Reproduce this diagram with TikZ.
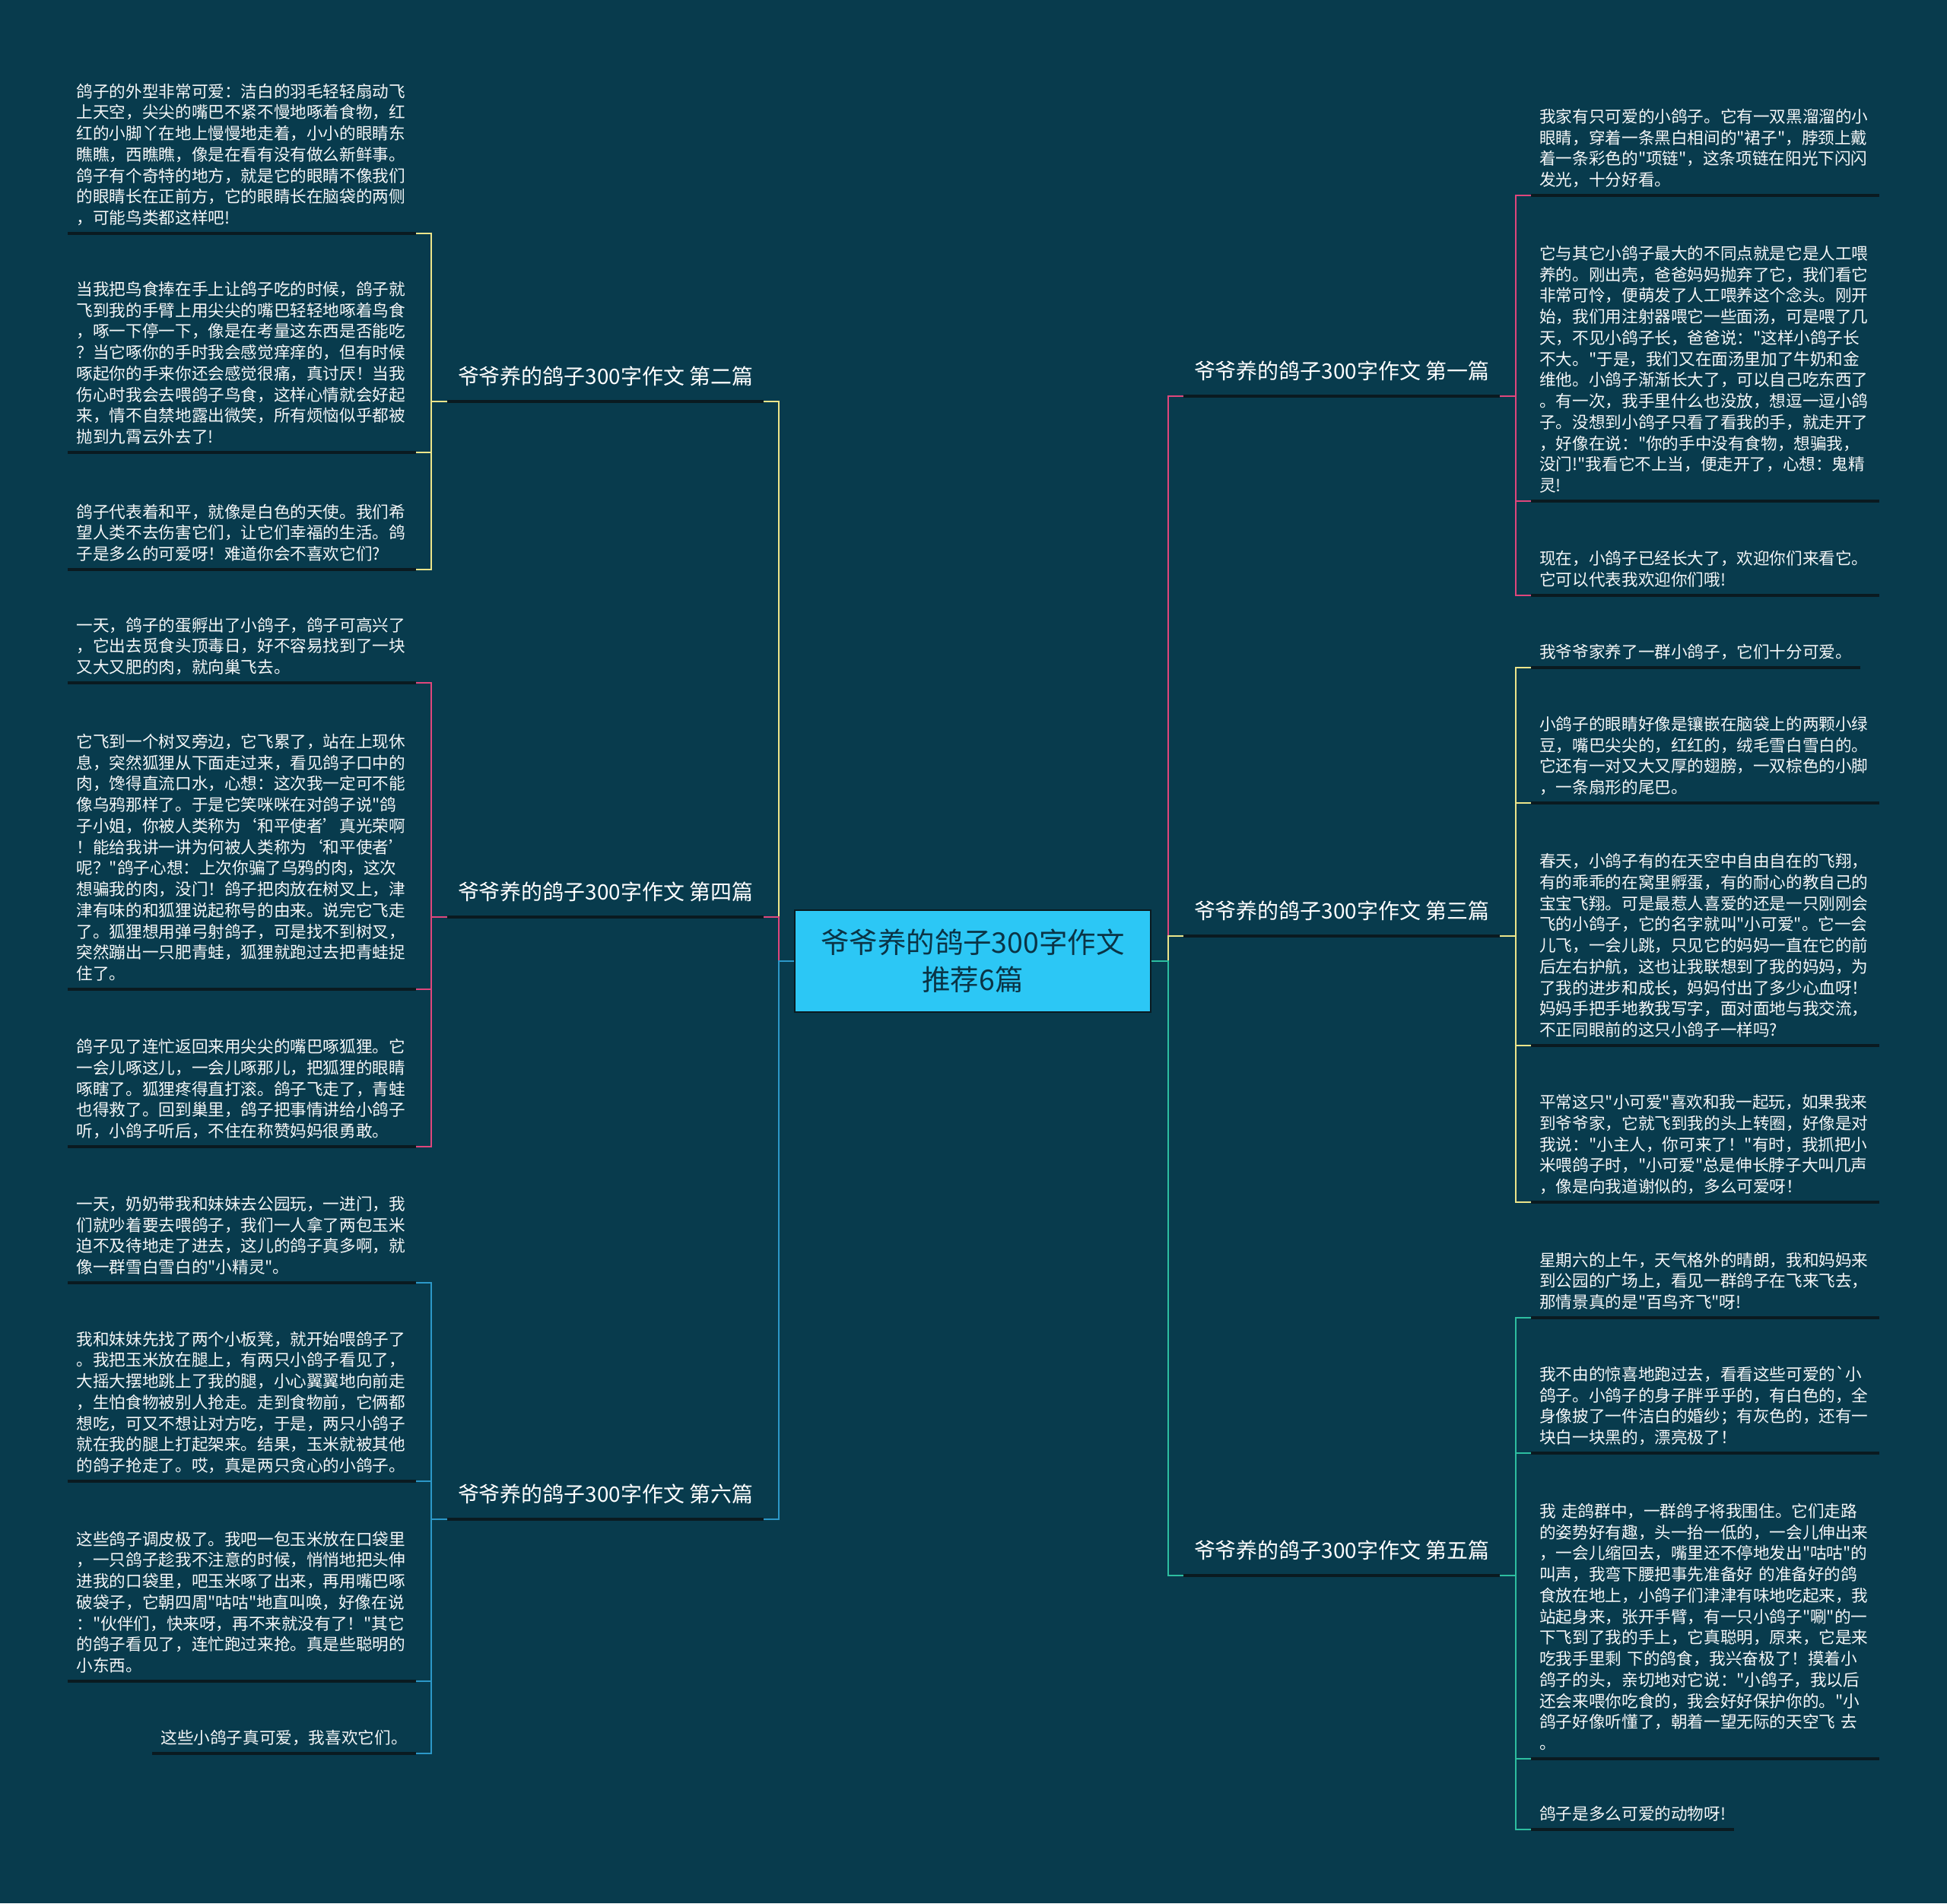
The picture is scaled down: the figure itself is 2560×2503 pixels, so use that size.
\documentclass[tikz,border=0pt]{standalone}
\usepackage{fontspec}
\newfontfamily\cjkfont{Noto Sans CJK SC}
\usetikzlibrary{positioning, calc}
\definecolor{bgc}{HTML}{083B4D}
\definecolor{hubfill}{HTML}{2CC7F5}
\definecolor{hubink}{HTML}{0A3446}
\definecolor{pnk}{HTML}{E0467C}
\definecolor{yel}{HTML}{EDE58A}
\definecolor{blu}{HTML}{2C98C8}
\definecolor{tea}{HTML}{2DBEA0}
\definecolor{under}{HTML}{0A1A20}
\tikzset{
  every node/.style = {font=\cjkfont},
  mmhub/.style    = {draw=under, line width=1pt, fill=hubfill, text=hubink, align=center,
                     minimum width=9.36cm, minimum height=2.68cm, inner sep=0pt,
                     font=\cjkfont\fontsize{21.3}{27.9}\selectfont},
  mmbranch/.style = {text=white, minimum width=8.32cm, inner sep=0pt, text depth=0.44cm,
                     anchor=south, font=\cjkfont\fontsize{15.9}{19}\selectfont},
  mmleaf/.style   = {text=white!96!bgc, align=left, inner xsep=0.22cm, inner ysep=0pt,
                     font=\cjkfont\fontsize{12.3}{15.8}\selectfont,
                     execute at end node={\rule[-0.24cm]{0pt}{0pt}}},
  mmwide/.style   = {text width=8.7cm},
  mmyel/.style    = {draw=yel, line width=1.1pt},
  mmpnk/.style    = {draw=pnk, line width=1.1pt},
  mmblu/.style    = {draw=blu, line width=1.1pt},
  mmtea/.style    = {draw=tea, line width=1.1pt},
  mmunder/.style  = {draw=under, line width=2.4pt},
}

\begin{document}
\begin{tikzpicture}[x=0.02cm, y=-0.02cm]

\fill[bgc] (0,0) rectangle (2560,2503);

\node[mmhub] (hub) at (1279,1264) {爷爷养的鸽子300字作文\\推荐6篇};

\node[mmbranch] (b2) at (796,528)  {爷爷养的鸽子300字作文 第二篇};
\node[mmbranch] (b4) at (796,1206) {爷爷养的鸽子300字作文 第四篇};
\node[mmbranch] (b6) at (796,1998) {爷爷养的鸽子300字作文 第六篇};
\node[mmbranch] (b1) at (1764,521)  {爷爷养的鸽子300字作文 第一篇};
\node[mmbranch] (b3) at (1764,1231) {爷爷养的鸽子300字作文 第三篇};
\node[mmbranch] (b5) at (1764,2072) {爷爷养的鸽子300字作文 第五篇};

% left side
\node[mmleaf, mmwide, anchor=south east] (p2a) at (547,307)
  {鸽子的外型非常可爱：洁白的羽毛轻轻扇动飞\\上天空，尖尖的嘴巴不紧不慢地啄着食物，红\\红的小脚丫在地上慢慢地走着，小小的眼睛东\\瞧瞧，西瞧瞧，像是在看有没有做么新鲜事。\\鸽子有个奇特的地方，就是它的眼睛不像我们\\的眼睛长在正前方，它的眼睛长在脑袋的两侧\\，可能鸟类都这样吧!};
\node[mmleaf, mmwide, anchor=south east] (p2b) at (547,595)
  {当我把鸟食捧在手上让鸽子吃的时候，鸽子就\\飞到我的手臂上用尖尖的嘴巴轻轻地啄着鸟食\\，啄一下停一下，像是在考量这东西是否能吃\\？当它啄你的手时我会感觉痒痒的，但有时候\\啄起你的手来你还会感觉很痛，真讨厌！当我\\伤心时我会去喂鸽子鸟食，这样心情就会好起\\来，情不自禁地露出微笑，所有烦恼似乎都被\\抛到九霄云外去了!};
\node[mmleaf, mmwide, anchor=south east] (p2c) at (547,749)
  {鸽子代表着和平，就像是白色的天使。我们希\\望人类不去伤害它们，让它们幸福的生活。鸽\\子是多么的可爱呀！难道你会不喜欢它们?};

\node[mmleaf, mmwide, anchor=south east] (p4a) at (547,898)
  {一天，鸽子的蛋孵出了小鸽子，鸽子可高兴了\\，它出去觅食头顶毒日，好不容易找到了一块\\又大又肥的肉，就向巢飞去。};
\node[mmleaf, mmwide, anchor=south east] (p4b) at (547,1301)
  {它飞到一个树叉旁边，它飞累了，站在上现休\\息，突然狐狸从下面走过来，看见鸽子口中的\\肉，馋得直流口水，心想：这次我一定可不能\\像乌鸦那样了。于是它笑咪咪在对鸽子说"鸽\\子小姐，你被人类称为‘和平使者’真光荣啊\\！能给我讲一讲为何被人类称为‘和平使者’\\呢？"鸽子心想：上次你骗了乌鸦的肉，这次\\想骗我的肉，没门！鸽子把肉放在树叉上，津\\津有味的和狐狸说起称号的由来。说完它飞走\\了。狐狸想用弹弓射鸽子，可是找不到树叉，\\突然蹦出一只肥青蛙，狐狸就跑过去把青蛙捉\\住了。};
\node[mmleaf, mmwide, anchor=south east] (p4c) at (547,1508)
  {鸽子见了连忙返回来用尖尖的嘴巴啄狐狸。它\\一会儿啄这儿，一会儿啄那儿，把狐狸的眼睛\\啄瞎了。狐狸疼得直打滚。鸽子飞走了，青蛙\\也得救了。回到巢里，鸽子把事情讲给小鸽子\\听，小鸽子听后，不住在称赞妈妈很勇敢。};

\node[mmleaf, mmwide, anchor=south east] (p6a) at (547,1687)
  {一天，奶奶带我和妹妹去公园玩，一进门，我\\们就吵着要去喂鸽子，我们一人拿了两包玉米\\迫不及待地走了进去，这儿的鸽子真多啊，就\\像一群雪白雪白的"小精灵"。};
\node[mmleaf, mmwide, anchor=south east] (p6b) at (547,1948)
  {我和妹妹先找了两个小板凳，就开始喂鸽子了\\。我把玉米放在腿上，有两只小鸽子看见了，\\大摇大摆地跳上了我的腿，小心翼翼地向前走\\，生怕食物被别人抢走。走到食物前，它俩都\\想吃，可又不想让对方吃，于是，两只小鸽子\\就在我的腿上打起架来。结果，玉米就被其他\\的鸽子抢走了。哎，真是两只贪心的小鸽子。};
\node[mmleaf, mmwide, anchor=south east] (p6c) at (547,2211)
  {这些鸽子调皮极了。我吧一包玉米放在口袋里\\，一只鸽子趁我不注意的时候，悄悄地把头伸\\进我的口袋里，吧玉米啄了出来，再用嘴巴啄\\破袋子，它朝四周"咕咕"地直叫唤，好像在说\\："伙伴们，快来呀，再不来就没有了！"其它\\的鸽子看见了，连忙跑过来抢。真是些聪明的\\小东西。};
\node[mmleaf, anchor=south east] (p6d) at (547,2306) {这些小鸽子真可爱，我喜欢它们。};

% right side
\node[mmleaf, mmwide, anchor=south west] (p1a) at (2013,257)
  {我家有只可爱的小鸽子。它有一双黑溜溜的小\\眼睛，穿着一条黑白相间的"裙子"，脖颈上戴\\着一条彩色的"项链"，这条项链在阳光下闪闪\\发光，十分好看。};
\node[mmleaf, mmwide, anchor=south west] (p1b) at (2013,659)
  {它与其它小鸽子最大的不同点就是它是人工喂\\养的。刚出壳，爸爸妈妈抛弃了它，我们看它\\非常可怜，便萌发了人工喂养这个念头。刚开\\始，我们用注射器喂它一些面汤，可是喂了几\\天，不见小鸽子长，爸爸说："这样小鸽子长\\不大。"于是，我们又在面汤里加了牛奶和金\\维他。小鸽子渐渐长大了，可以自己吃东西了\\。有一次，我手里什么也没放，想逗一逗小鸽\\子。没想到小鸽子只看了看我的手，就走开了\\，好像在说："你的手中没有食物，想骗我，\\没门!"我看它不上当，便走开了，心想：鬼精\\灵!};
\node[mmleaf, mmwide, anchor=south west] (p1c) at (2013,783)
  {现在，小鸽子已经长大了，欢迎你们来看它。\\它可以代表我欢迎你们哦!};

\node[mmleaf, anchor=south west] (p3a) at (2013,878) {我爷爷家养了一群小鸽子，它们十分可爱。};
\node[mmleaf, mmwide, anchor=south west] (p3b) at (2013,1056)
  {小鸽子的眼睛好像是镶嵌在脑袋上的两颗小绿\\豆，嘴巴尖尖的，红红的，绒毛雪白雪白的。\\它还有一对又大又厚的翅膀，一双棕色的小脚\\，一条扇形的尾巴。};
\node[mmleaf, mmwide, anchor=south west] (p3c) at (2013,1375)
  {春天，小鸽子有的在天空中自由自在的飞翔，\\有的乖乖的在窝里孵蛋，有的耐心的教自己的\\宝宝飞翔。可是最惹人喜爱的还是一只刚刚会\\飞的小鸽子，它的名字就叫"小可爱"。它一会\\儿飞，一会儿跳，只见它的妈妈一直在它的前\\后左右护航，这也让我联想到了我的妈妈，为\\了我的进步和成长，妈妈付出了多少心血呀！\\妈妈手把手地教我写字，面对面地与我交流，\\不正同眼前的这只小鸽子一样吗?};
\node[mmleaf, mmwide, anchor=south west] (p3d) at (2013,1581)
  {平常这只"小可爱"喜欢和我一起玩，如果我来\\到爷爷家，它就飞到我的头上转圈，好像是对\\我说："小主人，你可来了！"有时，我抓把小\\米喂鸽子时，"小可爱"总是伸长脖子大叫几声\\，像是向我道谢似的，多么可爱呀！};

\node[mmleaf, mmwide, anchor=south west] (p5a) at (2013,1733)
  {星期六的上午，天气格外的晴朗，我和妈妈来\\到公园的广场上，看见一群鸽子在飞来飞去，\\那情景真的是"百鸟齐飞"呀!};
\node[mmleaf, mmwide, anchor=south west] (p5b) at (2013,1911)
  {我不由的惊喜地跑过去，看看这些可爱的`小\\鸽子。小鸽子的身子胖乎乎的，有白色的，全\\身像披了一件洁白的婚纱；有灰色的，还有一\\块白一块黑的，漂亮极了！};
\node[mmleaf, mmwide, anchor=south west] (p5c) at (2013,2313)
  {我 走鸽群中，一群鸽子将我围住。它们走路\\的姿势好有趣，头一抬一低的，一会儿伸出来\\，一会儿缩回去，嘴里还不停地发出"咕咕"的\\叫声，我弯下腰把事先准备好 的准备好的鸽\\食放在地上，小鸽子们津津有味地吃起来，我\\站起身来，张开手臂，有一只小鸽子"唰"的一\\下飞到了我的手上，它真聪明，原来，它是来\\吃我手里剩 下的鸽食，我兴奋极了！摸着小\\鸽子的头，亲切地对它说："小鸽子，我以后\\还会来喂你吃食的，我会好好保护你的。"小\\鸽子好像听懂了，朝着一望无际的天空飞 去\\。};
\node[mmleaf, anchor=south west] (p5d) at (2013,2406) {鸽子是多么可爱的动物呀!};

\draw[mmyel] (hub.west) -- ++(-20,0) |- (b2.south east);
\draw[mmpnk] (hub.west) -- ++(-20,0) |- (b4.south east);
\draw[mmblu] (hub.west) -- ++(-20,0) |- (b6.south east);
\draw[mmpnk] (hub.east) -- ++(22,0) |- (b1.south west);
\draw[mmyel] (hub.east) -- ++(22,0) |- (b3.south west);
\draw[mmtea] (hub.east) -- ++(22,0) |- (b5.south west);

\foreach \n in {p2a,p2b,p2c} \draw[mmyel] (b2.south west) -- ++(-21,0) |- (\n.south east);
\foreach \n in {p4a,p4b,p4c} \draw[mmpnk] (b4.south west) -- ++(-21,0) |- (\n.south east);
\foreach \n in {p6a,p6b,p6c,p6d} \draw[mmblu] (b6.south west) -- ++(-21,0) |- (\n.south east);
\foreach \n in {p1a,p1b,p1c} \draw[mmpnk] (b1.south east) -- ++(21,0) |- (\n.south west);
\foreach \n in {p3a,p3b,p3c,p3d} \draw[mmyel] (b3.south east) -- ++(21,0) |- (\n.south west);
\foreach \n in {p5a,p5b,p5c,p5d} \draw[mmtea] (b5.south east) -- ++(21,0) |- (\n.south west);

\foreach \n in {b1,b2,b3,b4,b5,b6,p2a,p2b,p2c,p4a,p4b,p4c,p6a,p6b,p6c,p6d,
                p1a,p1b,p1c,p3a,p3b,p3c,p3d,p5a,p5b,p5c,p5d}
  \draw[mmunder] (\n.south west) -- (\n.south east);
\end{tikzpicture}
\end{document}
